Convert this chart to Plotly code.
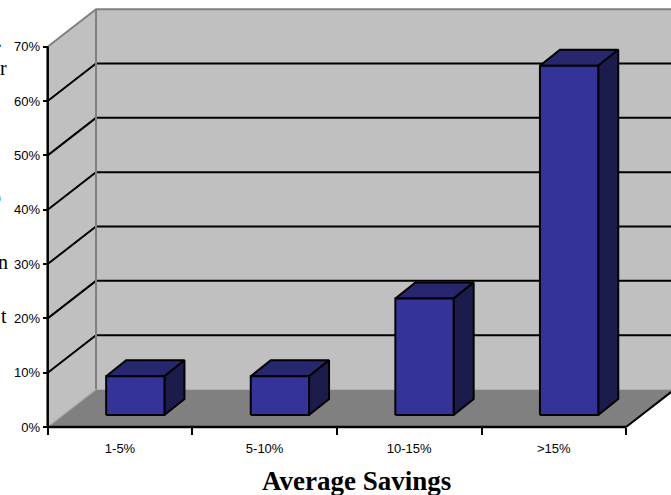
import plotly.graph_objects as go

# ---------------- data ----------------
categories = ["1-5%", "5-10%", "10-15%", ">15%"]
savings_pct = [7.14, 7.14, 21.43, 64.29]
y_tick_vals = [0, 10, 20, 30, 40, 50, 60, 70]
y_tick_text = ["0%", "10%", "20%", "30%", "40%", "50%", "60%", "70%"]
axis_title = "Average Savings"

# ---------------- geometry (pixels) ----------------
FIG_W, FIG_H = 671, 495
X0_PX = 47.7        # front value axis position
CAT_PX = 144.6      # pixels per category
Y0_PX = 427.0       # 0% on the front
PCT_PX = 5.433      # pixels per percent
Y_MAX = 70

n = len(categories)
DX = 48.3 / CAT_PX          # wall depth
DY = 37.5 / PCT_PX
BOX = 15.3 / CAT_PX         # bar front offset into depth
BOY = 12.0 / PCT_PX
BDX = 20.0 / CAT_PX         # bar depth
BDY = 16.0 / PCT_PX
BW = 58.3 / CAT_PX          # bar width

x_range = [-X0_PX / CAT_PX, (FIG_W - X0_PX) / CAT_PX]
y_range = [-(FIG_H - Y0_PX) / PCT_PX, Y0_PX / PCT_PX]

WALL = "#C0C0C0"
FLOOR = "#808080"
EDGE = "#808080"
FRONT = "#333399"
TOP = "#27276F"
SIDE = "#1C1C4C"

fig = go.Figure()


def poly(xs, ys, fill, line="rgba(0,0,0,0)", width=0):
    fig.add_trace(go.Scatter(
        x=list(xs) + [xs[0]], y=list(ys) + [ys[0]], mode="lines", fill="toself",
        fillcolor=fill, line=dict(color=line, width=width),
        hoverinfo="skip", showlegend=False))


def lines(xs, ys, color, width):
    fig.add_trace(go.Scatter(
        x=xs, y=ys, mode="lines", line=dict(color=color, width=width),
        hoverinfo="skip", showlegend=False))


# back wall
poly([DX, n + DX + 0.5, n + DX + 0.5, DX], [DY, DY, Y_MAX + DY, Y_MAX + DY], WALL)
# side wall
poly([0, DX, DX, 0], [0, DY, Y_MAX + DY, Y_MAX], WALL)
# floor
poly([0, n, n + DX, DX], [0, 0, DY, DY], FLOOR)

# gridlines (back + side)
gx, gy = [], []
for v in y_tick_vals[1:-1]:
    gx += [0, DX, n + DX + 0.5, None]
    gy += [v, v + DY, v + DY, None]
lines(gx, gy, "black", 2)

# wall edges (gray)
lines([0, DX, n + DX + 0.5], [Y_MAX, Y_MAX + DY, Y_MAX + DY], EDGE, 2)
lines([DX, DX], [DY, Y_MAX + DY], EDGE, 2)
lines([0, DX], [0, DY], "#A8A8A8", 1.2)
# floor right edge
lines([n, n + DX], [0, DY], "black", 2)

# bars
for i, v in enumerate(savings_pct):
    xl = i + 0.5 + BOX - BW / 2
    xr = xl + BW
    b = BOY
    t = BOY + v
    poly([xl, xr, xr + BDX, xl + BDX], [t, t, t + BDY, t + BDY], TOP, "black", 2)
    poly([xr, xr + BDX, xr + BDX, xr], [b, b + BDY, t + BDY, t], SIDE, "black", 2)
    poly([xl, xr, xr, xl], [b, b, t, t], FRONT, "black", 2)

# front axis lines
lines([0, 0], [0, Y_MAX], "black", 2.5)
lines([0, n], [0, 0], "black", 2.5)

# dummy trace for the tick-mark axis
fig.add_trace(go.Scatter(x=[0], y=[0], xaxis="x2", yaxis="y", mode="markers",
                         marker=dict(opacity=0), hoverinfo="skip", showlegend=False))

tick_font = dict(family="Arial, Liberation Sans, sans-serif", size=13, color="black")

fig.update_layout(
    width=FIG_W, height=FIG_H,
    margin=dict(l=0, r=0, t=0, b=0, pad=0),
    paper_bgcolor="white", plot_bgcolor="white",
    showlegend=False,
    xaxis=dict(range=x_range, domain=[0, 1], anchor="free",
               position=(FIG_H - Y0_PX) / FIG_H,
               tickmode="array", tickvals=[i + 0.5 for i in range(n)],
               ticktext=categories, ticks="outside", ticklen=9,
               tickcolor="rgba(0,0,0,0)", tickfont=tick_font,
               showgrid=False, zeroline=False, showline=False,
               fixedrange=True, automargin=False),
    xaxis2=dict(range=x_range, overlaying="x", anchor="free",
                position=(FIG_H - Y0_PX) / FIG_H,
                tickmode="array", tickvals=list(range(n + 1)),
                ticks="outside", ticklen=7, tickwidth=2, tickcolor="black",
                showticklabels=False, showgrid=False, zeroline=False,
                showline=False, fixedrange=True, automargin=False),
    yaxis=dict(range=y_range, domain=[0, 1], anchor="free",
               position=X0_PX / FIG_W,
               tickmode="array", tickvals=y_tick_vals, ticktext=y_tick_text,
               ticks="outside", ticklen=5, tickwidth=2, tickcolor="black",
               tickfont=tick_font,
               showgrid=False, zeroline=False, showline=False,
               fixedrange=True, automargin=False),
)

# axis title
fig.add_annotation(text=axis_title, xref="paper", yref="paper",
                   x=356 / FIG_W, y=(FIG_H - 480.5) / FIG_H,
                   xanchor="center", yanchor="middle", showarrow=False,
                   font=dict(family="Times New Roman, Liberation Serif, serif",
                             size=27, color="black", weight="bold"))

# clipped page text fragments at the left edge
for ch, ypx, xr in [(".", 40, 4), ("r", 68, 9), ("o", 197, 3),
                    ("n", 262, 10), ("t", 316, 9)]:
    fig.add_annotation(text=ch, xref="paper", yref="paper",
                       x=xr / FIG_W, y=(FIG_H - ypx) / FIG_H,
                       xanchor="right", yanchor="middle", showarrow=False,
                       font=dict(family="Liberation Serif, serif", size=20,
                                 color="black"))

fig.write_html("out.html")
